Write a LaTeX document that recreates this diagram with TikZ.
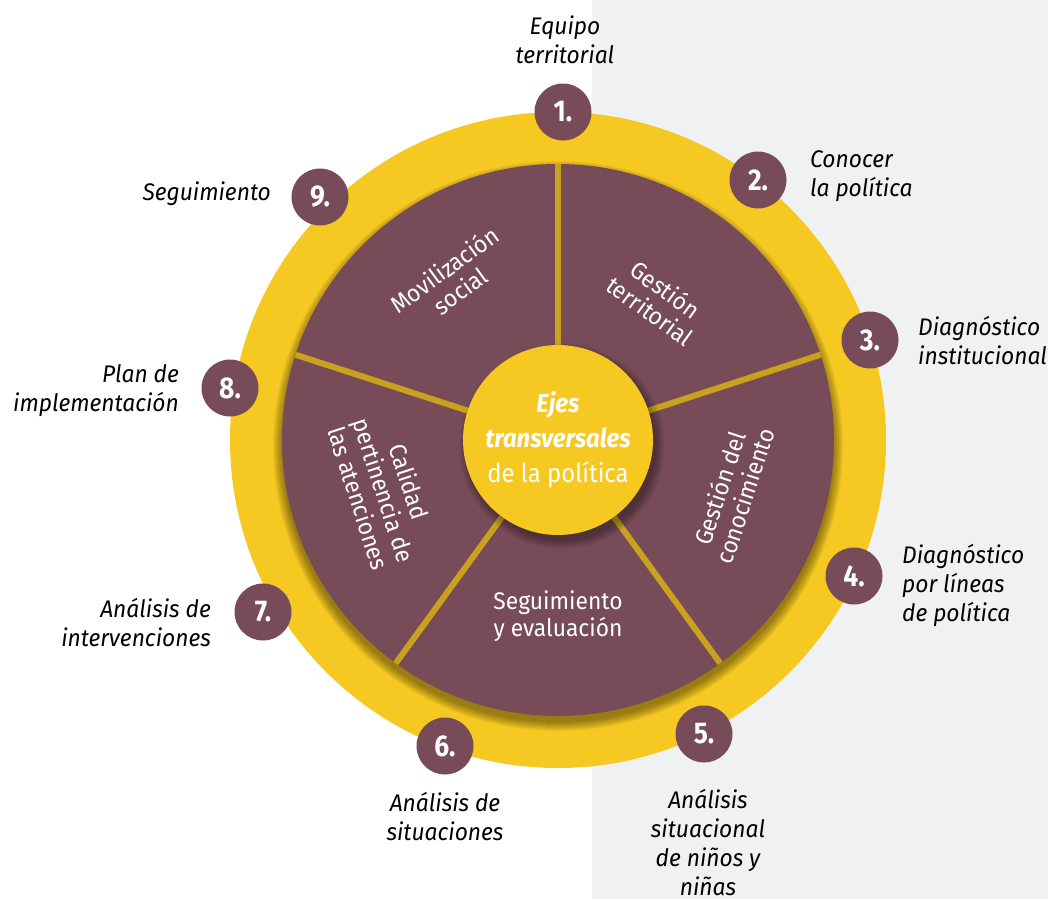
\documentclass[tikz,border=0pt]{standalone}
\usepackage{fontspec}
\setmainfont{Fira Sans}
\newfontfamily\cond[FakeStretch=0.88]{Fira Sans}
\newfontfamily\lcond[FakeStretch=0.95]{Fira Sans}
\newfontfamily\ccond[FakeStretch=0.92]{Fira Sans}
\usetikzlibrary{calc}
\definecolor{brn}{HTML}{774C58}
\definecolor{ylw}{HTML}{F5C822}
\definecolor{bgg}{HTML}{F0F1F3}
\definecolor{dvd}{HTML}{C9A11D}
\begin{document}
\begin{tikzpicture}[x=1pt,y=-1pt,
  num/.style={circle,fill=brn,minimum size=57pt,inner sep=0pt,text=white,font=\cond\bfseries\fontsize{30}{30}\selectfont},
  lbl/.style={font=\lcond\itshape\fontsize{24}{29}\selectfont,text=black,inner sep=0pt},
  seg/.style={font=\lcond\fontsize{24}{26.5}\selectfont,text=white,align=center,inner sep=0pt},
  ctrtext/.style={font=\ccond\fontsize{26}{35}\selectfont,text=white,align=center,inner sep=0pt}
]
\useasboundingbox (0,0) rectangle (1048,899);
\fill[white] (0,0) rectangle (1048,899);
\fill[bgg] (592,0) rectangle (1048,899);
\coordinate (C) at (558,440);
% outer ring
\fill[ylw] (C) circle (328pt);
% shadow of brown disk
\foreach \k in {0,...,9} \fill[black,opacity=0.045] ($(C)+(0,6)$) circle [radius={276pt+\k pt}];
\fill[brn] (C) circle (276pt);
% dividers
\foreach \a in {-90,-18,54,126,198} \draw[dvd,line width=6pt] ($(C)+(\a:90)$) -- ($(C)+(\a:276)$);
% centre shadow
\foreach \k in {0,...,9} \fill[black,opacity=0.035] ($(C)+(4,6)$) circle [radius={94pt+\k pt}];
\fill[ylw] (C) circle (95pt);
\node[ctrtext] (ctr) at (C) {\textbf{\textit{Ejes}}\\\textbf{\textit{transversales}}\\de la política};
% segment labels
\node[seg,rotate=36] (s1) at (452,280) {Movilización\\social};
\node[seg,rotate=-36] (s2) at (658,300) {Gestión\\territorial};
\node[seg,rotate=72] (s3) at (732,492) {Gestión del\\conocimiento};
\node[seg] (s4) at (558,616) {Seguimiento\\y evaluación};
\node[seg,rotate=-72] (s5) at (384,490) {Calidad\\pertinencia de\\las atenciones};
% numbers
\node[num] (n1) at (563,112) {1.};
\node[num] (n2) at (758,180) {2.};
\node[num] (n3) at (870,340) {3.};
\node[num] (n4) at (854,576) {4.};
\node[num] (n5) at (704,734) {5.};
\node[num] (n6) at (445,746) {6.};
\node[num] (n7) at (263,612) {7.};
\node[num] (n8) at (230,388) {8.};
\node[num] (n9) at (320,197) {9.};
% step labels
\node[lbl,align=center] (l1) at (565,40) {Equipo\\territorial};
\node[lbl,align=left,anchor=west] (l2) at (810,176) {Conocer\\la política};
\node[lbl,align=left,anchor=west] (l3) at (918,341) {Diagnóstico\\institucional};
\node[lbl,align=left,anchor=west] (l4) at (902,585) {Diagnóstico\\por líneas\\de política};
\node[lbl,align=center] (l5) at (708,843) {Análisis\\situacional\\de niños y\\niñas};
\node[lbl,align=center] (l6) at (445,817) {Análisis de\\situaciones};
\node[lbl,align=right,anchor=east] (l7) at (211,623) {Análisis de\\intervenciones};
\node[lbl,align=right,anchor=east] (l8) at (179,391) {Plan de\\implementación};
\node[lbl,align=right,anchor=east] (l9) at (271,194) {Seguimiento};
\end{tikzpicture}
\end{document}
